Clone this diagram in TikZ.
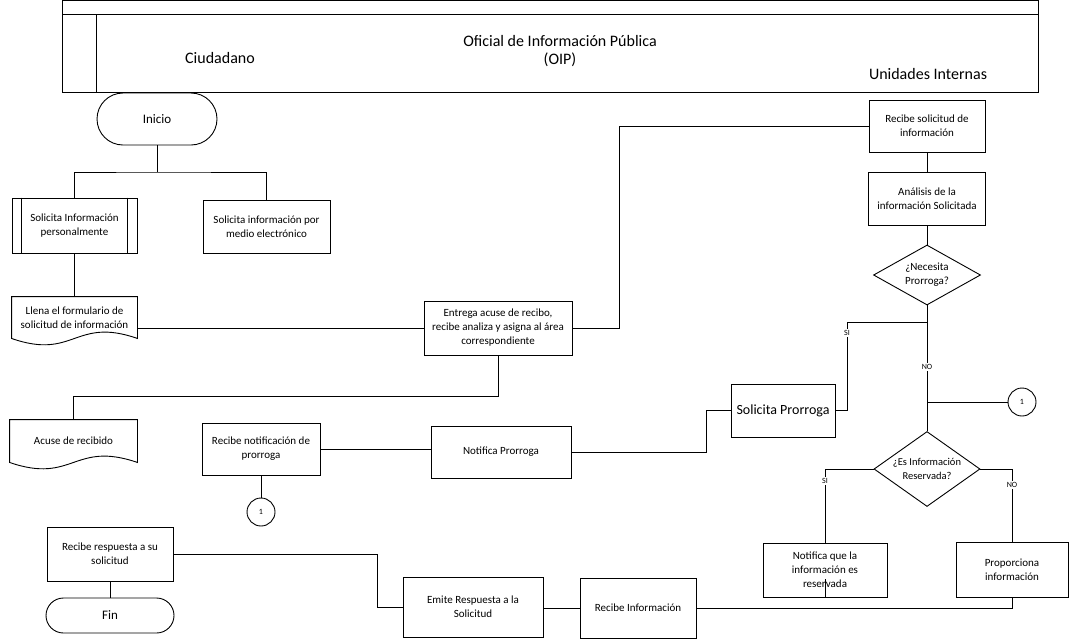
\documentclass[tikz,border=0pt]{standalone}
\usepackage{fontspec}
\setmainfont{Carlito}
\usetikzlibrary{shapes.geometric,calc}
\newcommand\docline[1]{\draw (#1.north west) -- (#1.north east) -- (#1.south east) .. controls ($(#1.south)+(0,-22)$) and ($(#1.south)+(0,22)$) .. (#1.south west) -- cycle;}
\begin{document}
\begin{tikzpicture}[x=1pt,y=-1pt,line width=0.9pt,
  txt/.style={font=\fontsize{11}{14}\selectfont, align=center, inner sep=1pt},
  hdr/.style={font=\fontsize{16}{18.5}\selectfont, align=center, inner sep=0pt},
  proc/.style 2 args={draw, rectangle, fill=white, minimum width=#1, minimum height=#2, txt},
  docbox/.style 2 args={rectangle, minimum width=#1, minimum height=#2, txt},
  term/.style={draw, rectangle, fill=white, font=\fontsize{13}{15}\selectfont, inner sep=1pt},
  decis/.style={draw, diamond, fill=white, inner sep=0pt, txt},
  circ/.style={draw, circle, fill=white, minimum size=28, inner sep=0pt, font=\fontsize{8}{9}\selectfont},
  lbl/.style={fill=white, inner sep=1pt, font=\fontsize{8}{9}\selectfont}]
\useasboundingbox (0,0) rectangle (1070,640);

% header (pool)
\draw (62,0.5) rectangle (1038,92);
\draw (62,14) -- (1038,14);
\draw (96,14) -- (96,92);
\node[hdr] (lane1) at (220,58) {Ciudadano};
\node[hdr] (lane2) at (560,51) {Oficial de Información Pública\\(OIP)};
\node[hdr] (lane3) at (928,74) {Unidades Internas};

% nodes
\node[term, minimum width=120, minimum height=52, rounded corners=26] (inicio) at (157,119) {Inicio};
\node[proc={125}{55}] (solp) at (74.5,225.5) {Solicita Información\\personalmente};
\draw ($(solp.north west)+(10,0)$) -- ($(solp.south west)+(10,0)$);
\draw ($(solp.north east)+(-10,0)$) -- ($(solp.south east)+(-10,0)$);
\node[proc={127}{53}] (sole) at (266.5,227) {Solicita información por\\medio electrónico};
\node[docbox={125}{41}] (llena) at (74.5,317.5) {Llena el formulario de\\solicitud de información};
\docline{llena}
\node[proc={148}{54}] (entrega) at (498,328) {Entrega acuse de recibo,\\recibe analiza y asigna al área\\correspondiente};
\node[docbox={127}{42}] (acuse) at (73.5,441) {Acuse de recibido};
\docline{acuse}
\node[proc={118}{52}] (recnot) at (261,449) {Recibe notificación de\\prorroga};
\node[circ] (c1l) at (261,512) {1};
\node[proc={140}{52}] (notpr) at (501,452) {Notifica Prorroga};
\node[proc={104}{53}, font=\fontsize{14}{16}\selectfont] (solpr) at (783,410.5) {Solicita Prorroga};
\node[proc={116}{52}] (recsol) at (927,126) {Recibe solicitud de\\información};
\node[proc={117}{53}] (anal) at (927,198.5) {Análisis de la\\información Solicitada};
\node[decis, minimum width=107, minimum height=60, shape aspect=1.8] (nec) at (927,275) {¿Necesita\\Prorroga?};
\node[decis, minimum width=106, minimum height=75, shape aspect=1.4, font=\fontsize{10.5}{13.5}\selectfont] (es) at (927,469) {¿Es Información\\Reservada?};
\node[circ] (c1r) at (1022,402) {1};
\node[proc={124}{54}] (notres) at (825,570) {Notifica que la\\información es\\reservada};
\node[proc={112}{55}] (prop) at (1012,569.5) {Proporciona\\información};
\node[proc={116}{60}] (recinf) at (638,608) {Recibe Información};
\node[proc={140}{60}] (emite) at (473,607) {Emite Respuesta a la\\Solicitud};
\node[proc={126}{54}] (recres) at (110,554) {Recibe respuesta a su\\solicitud};
\node[term, minimum width=128, minimum height=35, rounded corners=17.5] (fin) at (110,615.5) {Fin};

% connectors
\coordinate (split) at (157,172);
\draw (inicio.south) -- (split);
\draw (solp.north) |- (split) -| (sole.north);
\draw (solp.south) -- (llena.north);
\draw (llena.east |- entrega.west) -- (entrega.west);
\draw (entrega.east) -- ++(47,0) |- (recsol.west);
\draw (entrega.south) -- ++(0,41) -| (acuse.north);
\draw (recsol.south) -- (anal.north);
\draw (anal.south) -- (nec.north);
\coordinate (j1) at (927,322);
\coordinate (j2) at (927,402);
\coordinate (sib) at (847,410.5);
\draw (nec.south) -- (es.north);
\draw (j1) -| (sib) -- (solpr.east);
\draw (j2) -- (c1r.west);
\draw (notpr.east) -- ++(135,0) |- (solpr.west);
\draw (recnot.east) -- (recnot.east -| notpr.west);
\draw (recnot.south) -- (c1l.north);
\draw (es.west) -| (notres.north);
\draw (es.east) -| (prop.north);
\draw (notres.south) -- ++(0,-18);
\draw (prop.south) |- (recinf.east);
\draw (recinf.west) -- (recinf.west -| emite.east);
\draw (emite.west) -- ++(-25,0) |- (recres.east);
\draw (recres.south) -- (fin.north);

% labels
\node[lbl] (lsi1) at (847,333) {SI};
\node[lbl] (lno1) at (927,367) {NO};
\node[lbl] (lsi2) at (825,481) {SI};
\node[lbl] (lno2) at (1012,485) {NO};
\end{tikzpicture}
\end{document}
